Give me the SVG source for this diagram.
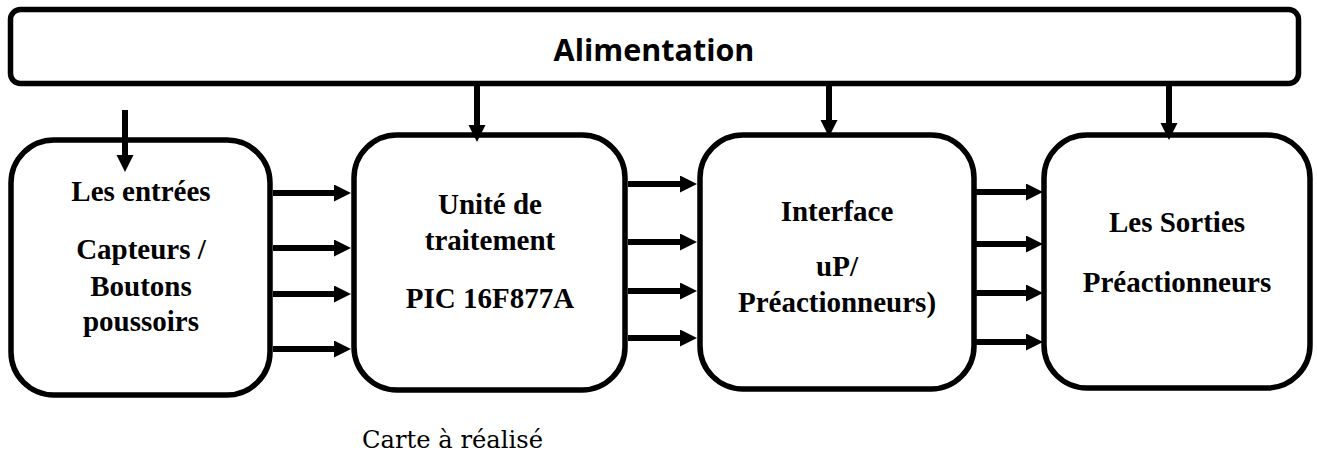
<svg xmlns="http://www.w3.org/2000/svg" width="1317" height="455" viewBox="0 0 1317 455">
  <style>
    .frame { fill: #ffffff; stroke: #000000; stroke-width: 5.5; }
    .lbl { font-family: "Liberation Serif", "Times New Roman", serif; font-weight: bold; font-size: 29px; fill: #000000; text-anchor: middle; }
    .title { font-family: "Open Sans", "Liberation Sans", sans-serif; font-weight: bold; font-size: 30.5px; fill: #000000; text-anchor: middle; }
    .note { font-family: "DejaVu Serif", "Liberation Serif", serif; font-size: 24px; fill: #000000; }
    .wire { fill: none; stroke: #000000; stroke-width: 6; }
  </style>
  <defs>
    <marker id="head" markerUnits="userSpaceOnUse" markerWidth="18" markerHeight="18" refX="7" refY="8.5" orient="auto">
      <path d="M0,0 L17,8.5 L0,17 Z" fill="#000000"/>
    </marker>
  </defs>

  <!-- power supply bar -->
  <g id="alimentation">
    <rect class="frame" x="10.5" y="9.5" width="1288" height="74" rx="10"/>
    <text class="title" x="654" y="61">Alimentation</text>
  </g>

  <!-- inputs -->
  <g id="entrees">
    <rect class="frame" x="11" y="140" width="259" height="255" rx="43"/>
    <text class="lbl" x="141" y="201">Les entrées</text>
    <text class="lbl" x="141" y="259">Capteurs /</text>
    <text class="lbl" x="141" y="296">Boutons</text>
    <text class="lbl" x="141" y="331">poussoirs</text>
  </g>

  <!-- processing unit -->
  <g id="traitement">
    <rect class="frame" x="354" y="135" width="271" height="255" rx="43"/>
    <text class="lbl" x="490" y="214">Unité de</text>
    <text class="lbl" x="490" y="250">traitement</text>
    <text class="lbl" x="490" y="308">PIC 16F877A</text>
  </g>

  <!-- interface -->
  <g id="interface">
    <rect class="frame" x="700" y="135" width="274" height="254" rx="43"/>
    <text class="lbl" x="837" y="221">Interface</text>
    <text class="lbl" x="837" y="276">uP/</text>
    <text class="lbl" x="837" y="312">Préactionneurs)</text>
  </g>

  <!-- outputs -->
  <g id="sorties">
    <rect class="frame" x="1044" y="135" width="266" height="253" rx="43"/>
    <text class="lbl" x="1177" y="232">Les Sorties</text>
    <text class="lbl" x="1177" y="292">Préactionneurs</text>
  </g>

  <!-- connectors -->
  <g id="connectors">
    <!-- supply drops -->
    <line class="wire" x1="125" y1="110" x2="125" y2="162" marker-end="url(#head)"/>
    <line class="wire" x1="477" y1="86" x2="477" y2="132" marker-end="url(#head)"/>
    <line class="wire" x1="829" y1="86" x2="829" y2="127" marker-end="url(#head)"/>
    <line class="wire" x1="1169" y1="86" x2="1169" y2="130" marker-end="url(#head)"/>
    <!-- inputs to processing -->
    <line class="wire" x1="273" y1="193" x2="341" y2="193" marker-end="url(#head)"/>
    <line class="wire" x1="273" y1="248" x2="341" y2="248" marker-end="url(#head)"/>
    <line class="wire" x1="273" y1="294" x2="341" y2="294" marker-end="url(#head)"/>
    <line class="wire" x1="273" y1="349" x2="341" y2="349" marker-end="url(#head)"/>
    <!-- processing to interface -->
    <line class="wire" x1="628" y1="184" x2="687" y2="184" marker-end="url(#head)"/>
    <line class="wire" x1="628" y1="242" x2="687" y2="242" marker-end="url(#head)"/>
    <line class="wire" x1="628" y1="291" x2="687" y2="291" marker-end="url(#head)"/>
    <line class="wire" x1="628" y1="338" x2="687" y2="338" marker-end="url(#head)"/>
    <!-- interface to outputs -->
    <line class="wire" x1="976" y1="192" x2="1033" y2="192" marker-end="url(#head)"/>
    <line class="wire" x1="976" y1="244" x2="1033" y2="244" marker-end="url(#head)"/>
    <line class="wire" x1="976" y1="293" x2="1033" y2="293" marker-end="url(#head)"/>
    <line class="wire" x1="976" y1="342" x2="1033" y2="342" marker-end="url(#head)"/>
  </g>

  <text class="note" x="362" y="448" textLength="181" lengthAdjust="spacingAndGlyphs">Carte à réalisé</text>
</svg>
